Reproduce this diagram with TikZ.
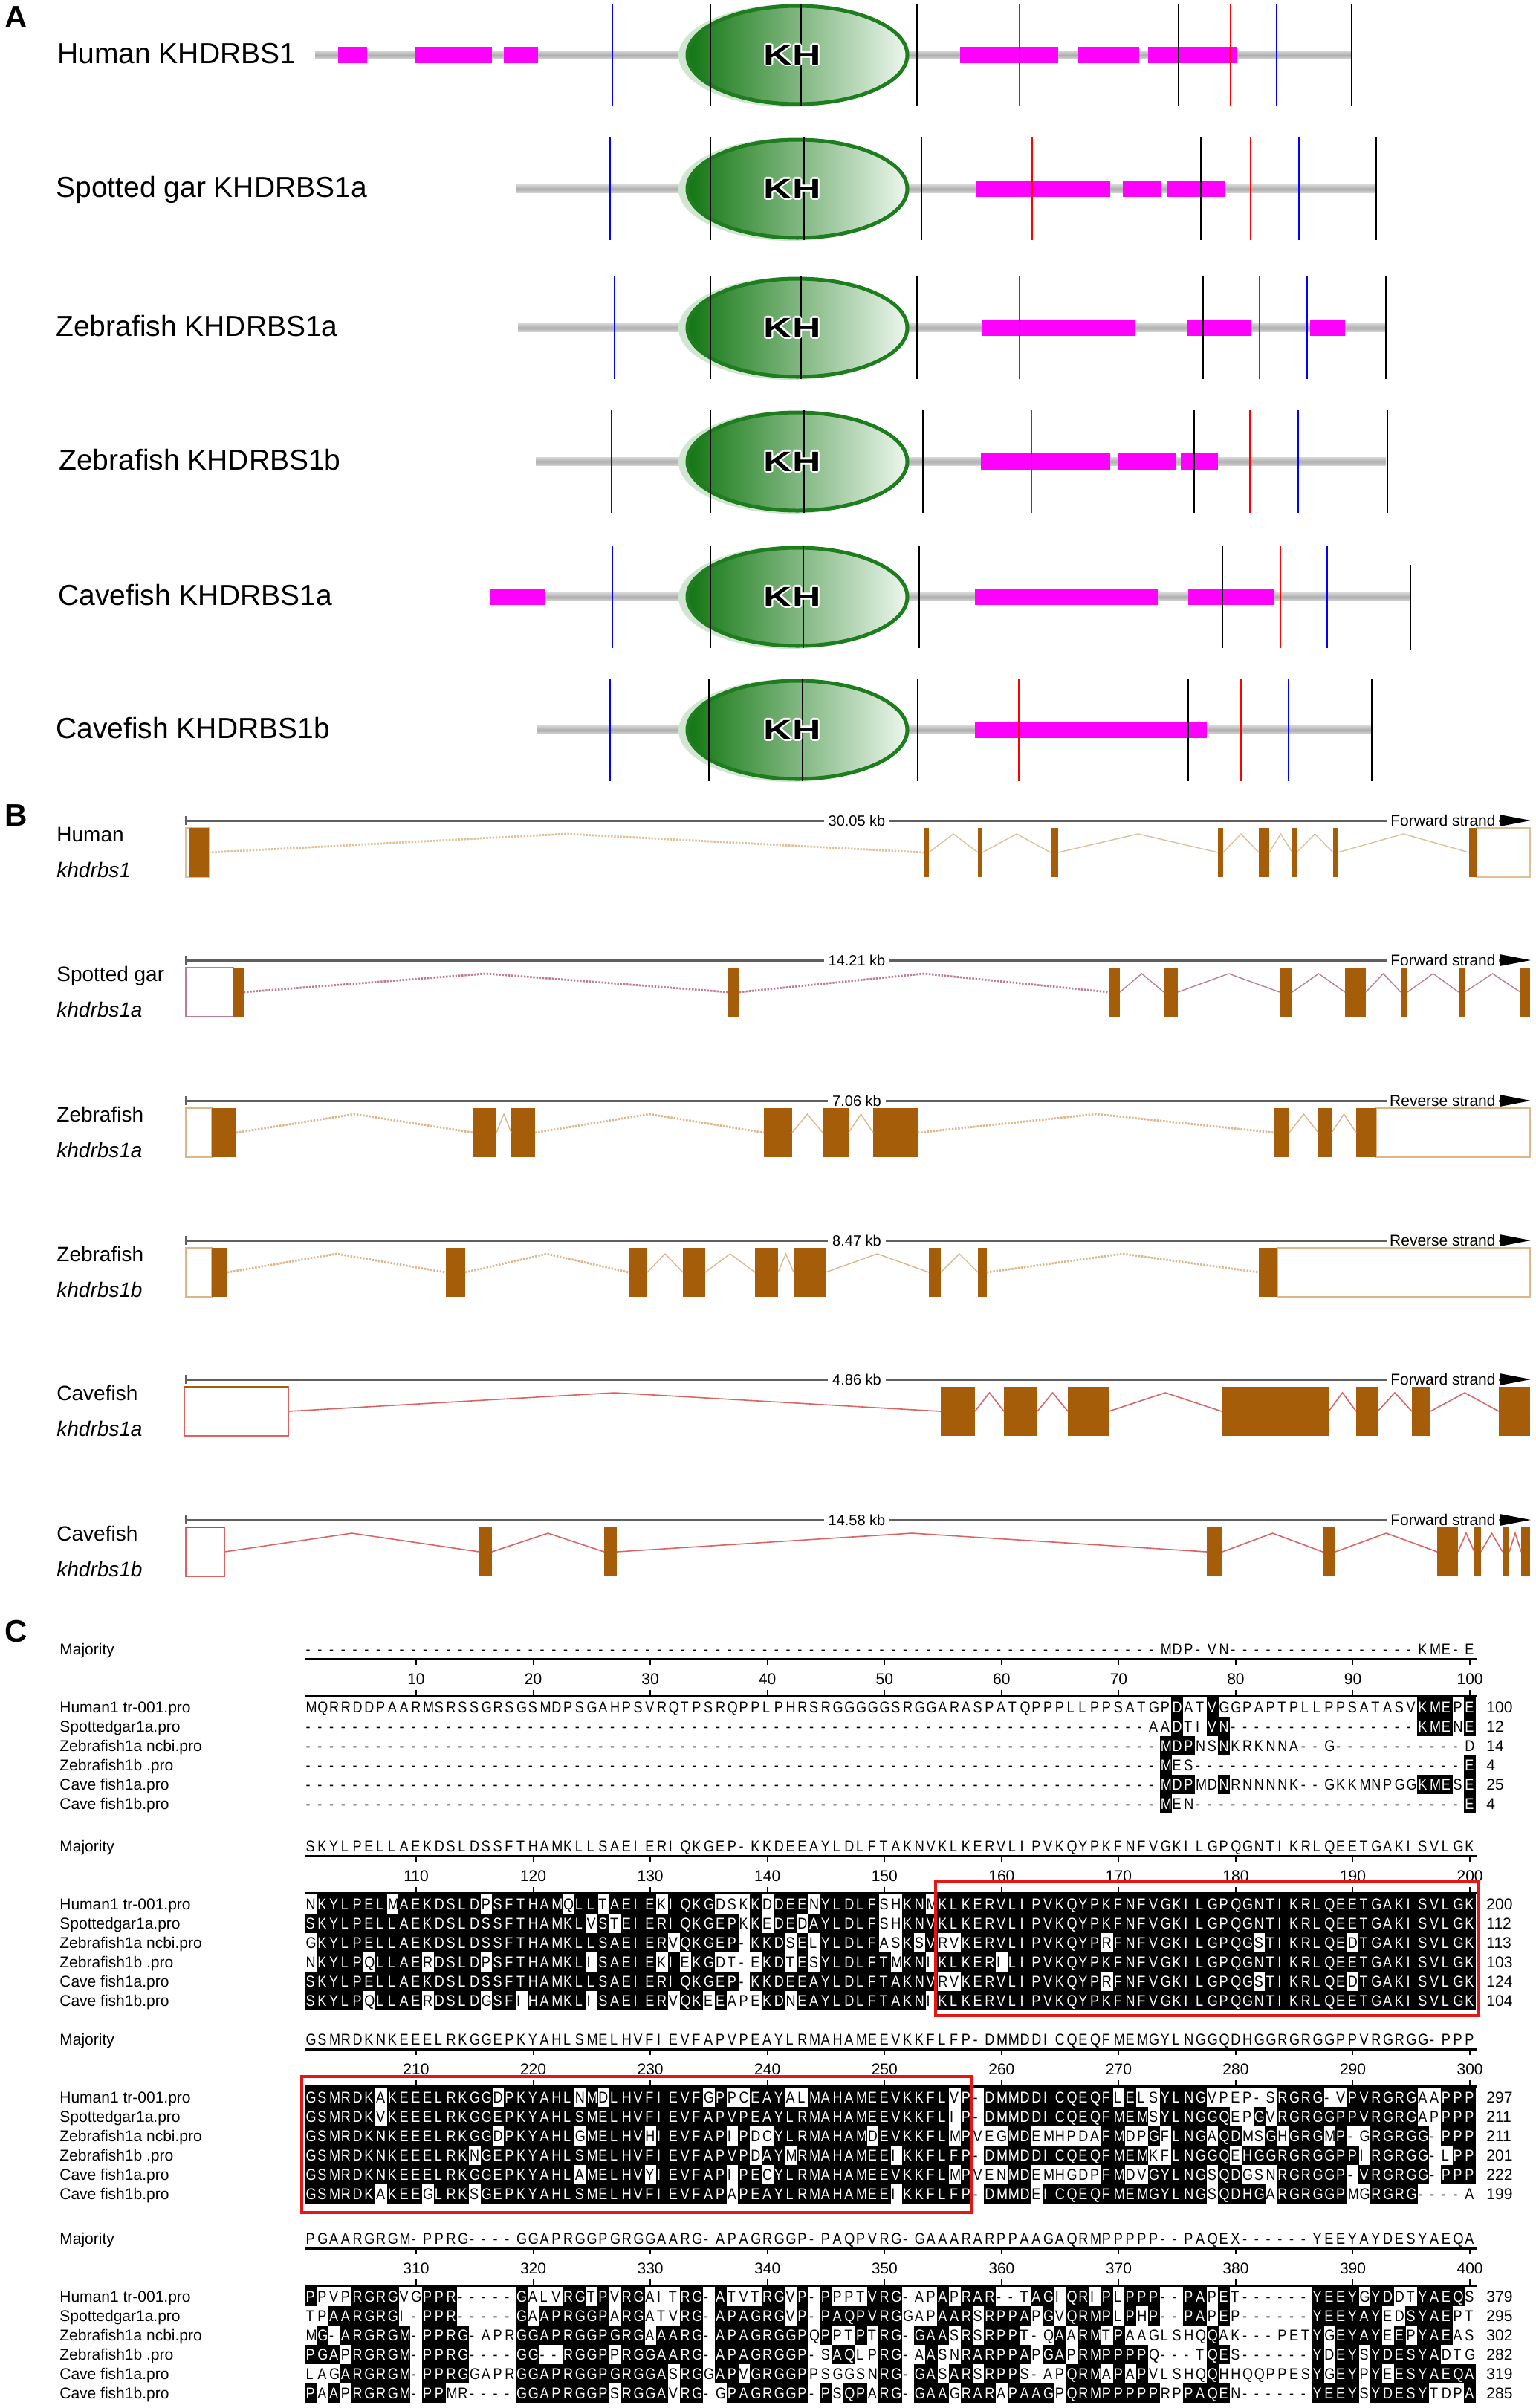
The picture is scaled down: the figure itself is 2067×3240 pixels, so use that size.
\documentclass[tikz,border=0pt]{standalone}
\usepackage{fontspec}
\setmainfont{Liberation Sans}
\newfontfamily\seqfont[FakeStretch=0.86]{Liberation Sans}
\newfontfamily\khfont[FakeStretch=1.4]{Liberation Sans}

\definecolor{exonc}{RGB}{166,93,10}
\definecolor{hcol}{RGB}{222,192,152}
\definecolor{gcol}{RGB}{190,125,150}
\definecolor{zcol}{RGB}{220,182,138}
\definecolor{ccol}{RGB}{218,100,100}
\definecolor{magc}{RGB}{255,0,255}
\definecolor{khdark}{RGB}{18,118,18}
\definecolor{khlight}{RGB}{236,246,236}
\definecolor{khborder}{RGB}{30,125,30}
\definecolor{khhalo}{RGB}{208,230,208}
\definecolor{bard}{RGB}{175,175,175}
\definecolor{barl}{RGB}{212,212,212}
\definecolor{scalec}{RGB}{95,95,95}
\definecolor{boxred}{RGB}{228,22,22}

\tikzset{
  lab/.style={anchor=base west, inner sep=0pt, font=\fontsize{19.5}{22}\selectfont},
  panel/.style={inner sep=0pt, font=\bfseries\fontsize{21}{24}\selectfont},
  glab/.style={anchor=base west, inner sep=0pt, font=\fontsize{14}{16}\selectfont},
  glabi/.style={anchor=base west, inner sep=0pt, font=\itshape\fontsize{14}{16}\selectfont},
  kbl/.style={fill=white, inner xsep=3pt, inner ysep=1pt, font=\fontsize{10}{12}\selectfont},
  strandl/.style={fill=white, anchor=east, inner xsep=2pt, inner ysep=1pt, font=\fontsize{10.5}{12}\selectfont},
  seqtxt/.style={anchor=base west, inner sep=0pt, font=\seqfont\fontsize{10.5}{12}\selectfont},
  clab/.style={anchor=base west, inner sep=0pt, font=\fontsize{10.5}{12}\selectfont},
  rulnum/.style={anchor=base, inner sep=0pt, font=\fontsize{10.5}{12}\selectfont},
  khtxt/.style={inner sep=0pt, font=\khfont\bfseries\fontsize{19}{22}\selectfont},
  vln/.style={line width=1.2pt},
  intsol/.style={line width=0.7pt},
  intsolc/.style={line width=0.8pt},
  intdot/.style={line width=1.4pt, dash pattern=on 1.2pt off 0.9pt},
}

% ---------- panel A: one protein row ----------
\newcommand\ProtRow[5]{% #1 y, #2 bar left, #3 bar right, #4 magenta boxes, #5 lines
  \shade[top color=barl, bottom color=barl, middle color=bard] (#2,#1-5.5) rectangle (#3,#1+5.5);
  \foreach \pa/\pb in {#4} {\fill[magc] (\pa,#1-11) rectangle (\pb,#1+11);}
  \fill[khhalo] (1064,#1+1) ellipse [x radius=75.5pt, y radius=34.5pt];
  \shadedraw[left color=khdark, right color=khlight, draw=khborder, line width=2.5pt]
     (1073,#1) ellipse [x radius=74pt, y radius=33pt];
  \foreach \lx/\lc in {#5} {\draw[vln,\lc] (\lx,#1-69) -- (\lx,#1+69);}
  \foreach \dx/\dy in {-2.4/0,2.4/0,0/-2.4,0/2.4,-1.7/-1.7,1.7/1.7,-1.7/1.7,1.7/-1.7}
     {\node[khtxt,text=white] at (1066+\dx,#1+\dy) {KH};}
  \node[khtxt] at (1066,#1) {KH};
}

% ---------- panel B ----------
\newcommand\GeneHead[5]{% #1 bar y, #2 species, #3 gene, #4 kb, #5 strand
  \draw[scalec, line width=1.5pt] (250,#1) -- (2020,#1);
  \draw[scalec, line width=1pt] (250,#1-6) -- (250,#1+6);
  \node[kbl] at (1153,#1) {#4};
  \node[strandl] at (2017,#1) {#5};
  \fill[black] (2018,#1-8) -- (2060,#1) -- (2018,#1+8) -- cycle;
  \node[glab] at (76,#1+28) {#2};
  \node[glabi] at (76,#1+76) {#3};
}
\newcommand\GeneBody[5]{% #1 bar y, #2 colour, #3 UTR boxes, #4 exons, #5 introns
  \foreach \ua/\ub in {#3} {\draw[#2, line width=0.8pt] (\ua,#1+10) rectangle (\ub,#1+76);}
  \foreach \ea/\eb in {#4} {\fill[exonc] (\ea,#1+10) rectangle (\eb,#1+76);}
  \foreach \ia/\ib/\st in {#5} {\draw[#2,\st] (\ia,#1+43) -- ({(\ia+\ib)/2},#1+18) -- (\ib,#1+43);}
}

% ---------- panel C ----------
\newcommand\SeqCell[4]{%
  \pgfmathsetmacro\cx{410.3+(#1-1)*15.757}%
  \ifnum#4=1\relax
    \fill[black] (\cx,#2-13.3) rectangle (\cx+16.1,#2+13.3);%
    \node[seqtxt,text=white] at (\cx+0.8,#2+7.5) {#3};%
  \else
    \node[seqtxt] at (\cx+0.8,#2+7.5) {#3};%
  \fi}
\newcommand\Ruler[2]{% #1 first row y, #2 offset
  \draw[line width=1.5pt] (410,#1-65) -- (1987,#1-65);
  \draw[line width=1.5pt] (410,#1-15) -- (1987,#1-15);
  \foreach \j in {10,20,...,100} {
    \pgfmathsetmacro\xc{410.3+(\j-0.5)*15.757}
    \draw[line width=0.8pt] (\xc,#1-65) -- (\xc,#1-57);
    \draw[line width=0.8pt] (\xc,#1-23) -- (\xc,#1-15);
    \pgfmathtruncatemacro\nn{\j+#2}
    \node[rulnum] at (\xc,#1-30.5) {\nn};
  }
}
\newcommand\BlockLabels[7]{%
  \node[clab] at (80,#1-70.5) {Majority};
  \foreach \k/\lbl/\nm in {0/Human1 tr-001.pro/#2, 1/Spottedgar1a.pro/#3, 2/Zebrafish1a ncbi.pro/#4,
      3/Zebrafish1b .pro/#5, 4/Cave fish1a.pro/#6, 5/Cave fish1b.pro/#7} {
    \node[clab] at (80,#1+26*\k+7.5) {\lbl};
    \node[clab] at (2000,#1+26*\k+7.5) {\nm};
  }
}

\ExplSyntaxOn
\cs_new:Npn \Dsh #1 { \prg_replicate:nn {#1} {-} }
\tl_new:N \l__my_seq_tl
\tl_new:N \l__my_maj_tl
\tl_new:N \l__my_a_tl
\tl_new:N \l__my_b_tl
\tl_const:Nn \c__my_dash_tl {-}
\NewDocumentCommand \SeqRow {mmm}
 {
  \tl_set:Nx \l__my_maj_tl {#2}
  \tl_set:Nx \l__my_seq_tl {#3}
  \tl_remove_all:Nn \l__my_maj_tl {~}
  \tl_remove_all:Nn \l__my_seq_tl {~}
  \int_step_inline:nn {100}
   {
    \tl_set:Nx \l__my_a_tl { \tl_item:Nn \l__my_seq_tl {##1} }
    \tl_set:Nx \l__my_b_tl { \tl_item:Nn \l__my_maj_tl {##1} }
    \tl_if_eq:NNTF \l__my_a_tl \l__my_b_tl
     {
      \tl_if_eq:NNTF \l__my_a_tl \c__my_dash_tl
       { \SeqCell {##1} {#1} {\l__my_a_tl} {0} }
       { \SeqCell {##1} {#1} {\l__my_a_tl} {1} }
     }
     { \SeqCell {##1} {#1} {\l__my_a_tl} {0} }
   }
 }
\ExplSyntaxOff

\begin{document}
\begin{tikzpicture}[x=0.5pt,y=-0.5pt]
\fill[white] (0,0) rectangle (2067,3240);
\useasboundingbox (0,0) rectangle (2067,3240);

% ================= Panel A =================
\node[panel] (pA) at (22,23) {A};
\ProtRow{74}{424}{1819}{455/494,558/662,678/724,1292/1424,1450/1533,1545/1664}
  {824/blue,956/black,1078/black,1234/black,1372/red,1586/black,1656/red,1718/blue,1819/black}
\ProtRow{254}{695}{1852}{1314/1494,1511/1563,1571/1649}
  {821/blue,956/black,1082/black,1240/black,1389/red,1616/black,1683/red,1748/blue,1852/black}
\ProtRow{441}{697}{1865}{1321/1527,1598/1683,1763/1810}
  {827/blue,956/black,1078/black,1234/black,1372/red,1619/black,1695/red,1759/blue,1865/black}
\ProtRow{621}{721}{1865}{1320/1494,1504/1582,1589/1639}
  {823/blue,956/black,1082/black,1242/black,1388/red,1607/black,1682/red,1747/blue,1867/black}
\ProtRow{803}{734}{1898}{660/734,1312/1558,1599/1714}
  {824/blue,956/black,1081/black,1237/black,1645/black,1723/red,1786/blue}
\draw[vln,black] (1898,760) -- (1898,874);
\ProtRow{982}{722}{1846}{1312/1624}
  {821/blue,954/black,1080/black,1235/black,1371/red,1599/black,1670/red,1734/blue,1846/black}

\node[lab] (la1) at (77,85) {Human KHDRBS1};
\node[lab] (la2) at (75,265) {Spotted gar KHDRBS1a};
\node[lab] (la3) at (75,452) {Zebrafish KHDRBS1a};
\node[lab] (la4) at (79,632) {Zebrafish KHDRBS1b};
\node[lab] (la5) at (78,814) {Cavefish KHDRBS1a};
\node[lab] (la6) at (75,993) {Cavefish KHDRBS1b};

% ================= Panel B =================
\node[panel] (pB) at (22,1097) {B};

\GeneHead{1104}{Human}{khdrbs1}{30.05 kb}{Forward strand}
\GeneBody{1104}{hcol}{250/281,1987/2059}
  {254/281,1243/1250,1316/1322,1414/1424,1639/1646,1694/1708,1739/1745,1794/1800,1977/1987}
  {281/1243/intdot,1250/1316/intsol,1322/1414/intsol,1424/1639/intsol,1646/1694/intsol,1708/1739/intsol,1745/1794/intsol,1800/1977/intsol}

\GeneHead{1292}{Spotted gar}{khdrbs1a}{14.21 kb}{Forward strand}
\GeneBody{1292}{gcol}{250/314}
  {314/328,980/995,1492/1507,1566/1585,1722/1739,1810/1838,1885/1894,1963/1971,2046/2059}
  {328/980/intdot,995/1492/intdot,1507/1566/intsol,1585/1722/intsol,1739/1810/intsol,1838/1885/intsol,1894/1963/intsol,1971/2046/intsol}

\GeneHead{1481}{Zebrafish}{khdrbs1a}{7.06 kb}{Reverse strand}
\GeneBody{1481}{zcol}{250/285,1852/2059}
  {285/318,637/668,688/720,1028/1066,1107/1142,1175/1235,1715/1735,1774/1792,1825/1852}
  {318/637/intdot,668/688/intsol,720/1028/intdot,1066/1107/intsol,1142/1175/intsol,1235/1715/intdot,1735/1774/intsol,1792/1825/intsol}

\GeneHead{1669}{Zebrafish}{khdrbs1b}{8.47 kb}{Reverse strand}
\GeneBody{1669}{zcol}{250/285,1719/2059}
  {285/306,600/626,846/871,919/949,1016/1047,1068/1111,1250/1266,1316/1328,1694/1719}
  {306/600/intdot,626/846/intdot,871/919/intsol,949/1016/intsol,1047/1068/intsol,1111/1250/intsol,1266/1316/intsol,1328/1694/intdot}

\GeneHead{1856}{Cavefish}{khdrbs1a}{4.86 kb}{Forward strand}
\GeneBody{1856}{ccol}{248/388}
  {1266/1312,1351/1396,1437/1492,1644/1788,1825/1854,1900/1925,2017/2059}
  {388/1266/intsolc,1312/1351/intsolc,1396/1437/intsolc,1492/1644/intsolc,1788/1825/intsolc,1854/1900/intsolc,1925/2017/intsolc}
\draw[exonc, line width=0.8pt] (248,1866) -- (388,1866);

\GeneHead{2045}{Cavefish}{khdrbs1b}{14.58 kb}{Forward strand}
\GeneBody{2045}{ccol}{250/302}
  {645/662,813/830,1624/1645,1780/1797,1934/1962,1984/1993,2022/2031,2047/2059}
  {302/645/intsolc,662/813/intsolc,830/1624/intsolc,1645/1780/intsolc,1797/1934/intsolc,1962/1984/intsolc,1993/2022/intsolc,2031/2047/intsolc}
\draw[exonc, line width=0.8pt] (250,2055) -- (302,2055);

% ================= Panel C =================
\node[panel] (pC) at (22,2195) {C};

% ---- block 1 ----
\Ruler{2297}{0}
\BlockLabels{2297}{100}{12}{14}{4}{25}{4}
\SeqRow{2219}{}{\Dsh{73}MDP-VN\Dsh{16}KME-E}
\SeqRow{2297}{\Dsh{73}MDP-VN\Dsh{16}KME-E}{MQRRDDPAAR MSRSSGRSGS MDPSGAHPSV RQTPSRQPPL PHRSRGGGGG SRGGARASPA TQPPPLLPPS ATGPDATVGG PAPTPLLPPS ATASVKMEPE}
\SeqRow{2323}{\Dsh{73}MDP-VN\Dsh{16}KME-E}{\Dsh{72}AADTIVN\Dsh{16}KMENE}
\SeqRow{2349}{\Dsh{73}MDP-VN\Dsh{16}KME-E}{\Dsh{73}MDPNSNKRKNNA--G\Dsh{11}D}
\SeqRow{2375}{\Dsh{73}MDP-VN\Dsh{16}KME-E}{\Dsh{73}MES\Dsh{23}E}
\SeqRow{2401}{\Dsh{73}MDP-VN\Dsh{16}KME-E}{\Dsh{73}MDPMDNRNNNNK--GKKMNPGGKMESE}
\SeqRow{2427}{\Dsh{73}MDP-VN\Dsh{16}KME-E}{\Dsh{73}MEN\Dsh{23}E}

% ---- block 2 ----
\def\MajB{SKYLPELLAE KDSLDSSFTH AMKLLSAEIE RIQKGEP-KK DEEAYLDLFT AKNVKLKERV LIPVKQYPKF NFVGKILGPQ GNTIKRLQEE TGAKISVLGK}
\Ruler{2562}{100}
\BlockLabels{2562}{200}{112}{113}{103}{124}{104}
\SeqRow{2484}{}{\MajB}
\SeqRow{2562}{\MajB}{NKYLPELMAE KDSLDPSFTH AMQLLTAEIE KIQKGDSKKD DEENYLDLFS HKNMKLKERV LIPVKQYPKF NFVGKILGPQ GNTIKRLQEE TGAKISVLGK}
\SeqRow{2588}{\MajB}{SKYLPELLAE KDSLDSSFTH AMKLVSTEIE RIQKGEPKKE DEDAYLDLFS HKNVKLKERV LIPVKQYPKF NFVGKILGPQ GNTIKRLQEE TGAKISVLGK}
\SeqRow{2614}{\MajB}{GKYLPELLAE KDSLDSSFTH AMKLLSAEIE RVQKGEP-KK DSELYLDLFA SKSVRVKERV LIPVKQYPRF NFVGKILGPQ GSTIKRLQED TGAKISVLGK}
\SeqRow{2640}{\MajB}{NKYLPQLLAE RDSLDPSFTH AMKLISAEIE KIEKGDT-EK DTESYLDLFT MKNIKLKERI LIPVKQYPKF NFVGKILGPQ GNTIKRLQEE TGAKISVLGK}
\SeqRow{2666}{\MajB}{SKYLPELLAE KDSLDSSFTH AMKLLSAEIE RIQKGEP-KK DEEAYLDLFT AKNVRVKERV LIPVKQYPRF NFVGKILGPQ GSTIKRLQED TGAKISVLGK}
\SeqRow{2692}{\MajB}{SKYLPQLLAE RDSLDGSFIH AMKLISAEIE RVQKEEAPEK DNEAYLDLFT AKNIKLKERV LIPVKQYPKF NFVGKILGPQ GNTIKRLQEE TGAKISVLGK}
\draw[boxred, line width=2pt] (1259,2532) rectangle (1990,2712);

% ---- block 3 ----
\def\MajC{GSMRDKNKEE ELRKGGEPKY AHLSMELHVF IEVFAPVPEA YLRMAHAMEE VKKFLFP-DM MDDICQEQFM EMGYLNGGQD HGGRGRGGPP VRGRGG-PPP}
\Ruler{2822}{200}
\BlockLabels{2822}{297}{211}{211}{201}{222}{199}
\SeqRow{2744}{}{\MajC}
\SeqRow{2822}{\MajC}{GSMRDKAKEE ELRKGGDPKY AHLNMDLHVF IEVFGPPCEA YALMAHAMEE VKKFLVP-DM MDDICQEQFL ELSYLNGVPE P-SRGRG-VP VRGRGAAPPP}
\SeqRow{2848}{\MajC}{GSMRDKVKEE ELRKGGEPKY AHLSMELHVF IEVFAPVPEA YLRMAHAMEE VKKFLIP-DM MDDICQEQFM EMSYLNGGQE PGVRGRGGPP VRGRGAPPPP}
\SeqRow{2874}{\MajC}{GSMRDKNKEE ELRKGGDPKY AHLGMELHVH IEVFAPIPDC YLRMAHAMDE VKKFLMPVEG MDEMHPDAFM DPGFLNGAQD MSGHGRGMP- GRGRGG-PPP}
\SeqRow{2900}{\MajC}{GSMRDKNKEE ELRKNGEPKY AHLSMELHVF IEVFAPVPDA YMRMAHAMEE IKKFLFP-DM MDDICQEQFM EMKFLNGGQE HGGRGRGGPP IRGRGG-LPP}
\SeqRow{2926}{\MajC}{GSMRDKNKEE ELRKGGEPKY AHLAMELHVY IEVFAPIPEC YLRMAHAMEE VKKFLMPVEN MDEMHGDPFM DVGYLNGSQD GSNRGRGGP- VRGRGG-PPP}
\SeqRow{2952}{\MajC}{GSMRDKAKEE GLRKSGEPKY AHLSMELHVF IEVFAPAPEA YLRMAHAMEE IKKFLFP-DM MDEICQEQFM EMGYLNGSQD HGARGRGGPM GRGRG----A}
\draw[boxred, line width=2pt] (406,2794) rectangle (1308,2977);

% ---- block 4 ----
\def\MajD{PGAARGRGM- PPRG----GG APRGGPGRGG AARG-APAGR GGP-PAQPVR G-GAAARARP PAAGAQRMPP PPP--PAQEX ------YEEY AYDESYAEQA}
\Ruler{3090}{300}
\BlockLabels{3090}{379}{295}{302}{282}{319}{285}
\SeqRow{3012}{}{\MajD}
\SeqRow{3090}{\MajD}{PPVPRGRGVG PPR-----GA LVRGTPVRGA ITRG-ATVTR GVP-PPPTVR G-APAPRAR- -TAGIQRIPL PPP--PAPET ------YEEY GYDDTYAEQS}
\SeqRow{3116}{\MajD}{TPAARGRGI- PPR-----GA APRGGPARGA TVRG-APAGR GVP-PAQPVR GGAPAARSRP PAPGVQRMPL PHP--PAPEP ------YEEY AYEDSYAEPT}
\SeqRow{3142}{\MajD}{MG-ARGRGM- PPRG-APRGG APRGGPGRGA AARG-APAGR GGPQPPTPTR G-GAASRSRP PT-QAARMTP AAGLSHQQAK ---PETYGEY AYEEPYAEAS}
\SeqRow{3168}{\MajD}{PGAPRGRGM- PPRG----GG --RGGPPRGG AARG-APAGR GGP-SAQLPR G-AASNRARP PAPGAPRMPP PPQ---TQES ------YDEY SYDESYADTG}
\SeqRow{3194}{\MajD}{LAGARGRGM- PPRGGAPRGG APRGGPGRGG ASRGGAPVGR GGPPSGGSNR G-GASARSRP PS-APQRMAP APVLSHQQHH QQPPESYGEY PYEESYAEQA}
\SeqRow{3220}{\MajD}{PAAPRGRGM- PPMR----GG APRGGPSRGG AVRG-GPAGR GGP-PSQPAR G-GAAGRARA PAAGPQRMPP PPPRPPAQEN ------YEEY SYDESYTDPA}

\end{tikzpicture}
\end{document}
